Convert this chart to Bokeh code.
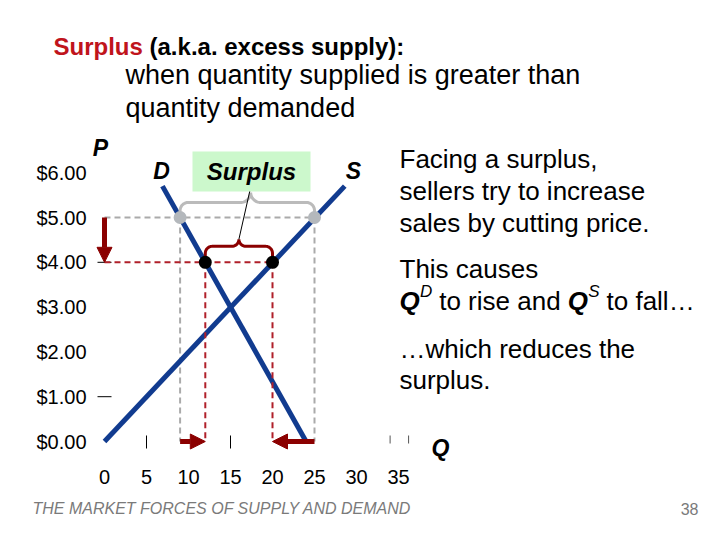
import numpy as np
from bokeh.plotting import figure
from bokeh.models import Range1d, Arrow, NormalHead
from bokeh.core.properties import value
from bokeh.embed import file_html
from bokeh.resources import INLINE

# ---------------- data ----------------
price_ticks = [0, 1, 2, 3, 4, 5, 6]
price_labels = ["$0.00", "$1.00", "$2.00", "$3.00", "$4.00", "$5.00", "$6.00"]
qty_ticks = [0, 5, 10, 15, 20, 25, 30, 35]
qty_labels = ["0", "5", "10", "15", "20", "25", "30", "35"]

demand_q = [6.9, 24.0]
demand_p = [5.7, 0.0]
supply_q = [0.0, 28.6]
supply_p = [0.0, 5.7]

surplus_price = 5.0
qd_at_surplus = 9.0
qs_at_surplus = 25.0
lower_price = 4.0
qd_at_lower = 12.0
qs_at_lower = 20.0

tick_marks_p = [1, 4]
tick_marks_q = [5, 15]
stray_marks_q = [34.0, 36.2]

# ---------------- scale helpers (picture pixels -> data) ----------------
PXQ = 8.4     # pixels per quantity unit
PXP = 44.8    # pixels per dollar
OX, OY = 104, 441


def qx(px):
    return (px - OX) / PXQ


def py(pyy):
    return (OY - pyy) / PXP


def dq(n):
    return n / PXQ


def dp(n):
    return n / PXP


FONT = value("Liberation Sans")
BLUE = "#113b8f"
DARKRED = "#8b0000"
DASHRED = "#b0202a"
GRAY = "#aaaaaa"

W, H = 704, 524
p = figure(width=W, height=H,
           x_range=Range1d(qx(0), qx(W)), y_range=Range1d(py(H), py(0)),
           output_backend="svg", toolbar_location=None,
           x_axis_location=None, y_axis_location=None,
           min_border=0, title=None)
p.xgrid.visible = False
p.ygrid.visible = False
p.outline_line_color = None
p.background_fill_color = "white"
p.border_fill_color = "white"


def brace(x0, x1, y0, h, r, c, end=4, xc=None):
    if xc is None:
        xc = (x0 + x1) / 2
    X1 = (x1 - x0) * PXQ
    XC = (xc - x0) * PXQ
    pts = [(0, end)]
    for a in np.linspace(np.pi, np.pi / 2, 12):
        pts.append((r + r * np.cos(a), h - r + r * np.sin(a)))
    for a in np.linspace(-np.pi / 2, 0, 12):
        pts.append((XC - c + c * np.cos(a), h + c + c * np.sin(a)))
    for a in np.linspace(np.pi, 1.5 * np.pi, 12):
        pts.append((XC + c + c * np.cos(a), h + c + c * np.sin(a)))
    for a in np.linspace(np.pi / 2, 0, 12):
        pts.append((X1 - r + r * np.cos(a), h - r + r * np.sin(a)))
    pts.append((X1, end))
    xs = [x0 + X / PXQ for X, _ in pts]
    ys = [y0 + Y / PXP for _, Y in pts]
    return xs, ys


# ---------------- guide lines ----------------
p.line([0, qs_at_surplus], [surplus_price, surplus_price], line_color=GRAY, line_width=2, line_dash="6 4")
p.segment(x0=[qd_at_surplus, qs_at_surplus], y0=[surplus_price] * 2,
          x1=[qd_at_surplus, qs_at_surplus], y1=[0, 0],
          line_color=GRAY, line_width=2, line_dash="6 4")

# tick marks
p.segment(x0=[-dq(7)] * 2, y0=tick_marks_p, x1=[dq(7)] * 2, y1=tick_marks_p, line_color="black", line_width=1)
p.segment(x0=tick_marks_q, y0=[-dp(7)] * 2, x1=tick_marks_q, y1=[dp(6)] * 2, line_color="black", line_width=1)
p.segment(x0=stray_marks_q, y0=[dp(-2)] * 2, x1=stray_marks_q, y1=[dp(6)] * 2, line_color="#555555", line_width=1)

# curves
p.line(demand_q, demand_p, line_color=BLUE, line_width=5)
p.line(supply_q, supply_p, line_color=BLUE, line_width=5)

p.line([0, qs_at_lower], [lower_price, lower_price], line_color=DASHRED, line_width=2, line_dash="6 4")
p.segment(x0=[qd_at_lower, qs_at_lower], y0=[lower_price] * 2,
          x1=[qd_at_lower, qs_at_lower], y1=[0, 0],
          line_color=DASHRED, line_width=2, line_dash="6 4")

# braces
gx, gy = brace(qd_at_surplus, qs_at_surplus, surplus_price, h=15, r=8, c=10, xc=17.4)
p.line(gx, gy, line_color="#bbbbbb", line_width=3)
rx, ry = brace(qd_at_lower, qs_at_lower, lower_price, h=16, r=7, c=7)
p.line(rx, ry, line_color=DARKRED, line_width=3)

# pointer from red brace to label
p.line([(qd_at_lower + qs_at_lower) / 2, qx(251)], [lower_price + dp(23), py(183)],
       line_color="black", line_width=1)

# surplus label box
p.rect(x=[qx(251)], y=[py(171)], width=118, height=40, width_units="screen", height_units="screen",
       fill_color="#ccf8cc", line_color=None)

# dots
p.scatter([qd_at_surplus, qs_at_surplus], [surplus_price] * 2, size=13, fill_color="#b4b8bc", line_color=None)
p.scatter([qd_at_lower, qs_at_lower], [lower_price] * 2, size=13, fill_color="black", line_color=None)

# arrows
for xs, ys, xe, ye in [(0, surplus_price, 0, lower_price),
                       (qd_at_surplus, 0, qd_at_lower, 0),
                       (qs_at_surplus, 0, qs_at_lower, 0)]:
    p.add_layout(Arrow(end=NormalHead(size=15, fill_color=DARKRED, line_color=DARKRED, line_width=1),
                       x_start=xs, y_start=ys, x_end=xe, y_end=ye,
                       line_color=DARKRED, line_width=5))

# ---------------- tick labels ----------------
p.text(x=[qx(86)] * len(price_ticks), y=price_ticks, text=price_labels,
       text_font=FONT, text_font_size="20px", text_align="right", text_baseline="middle", text_color="black")
p.text(x=qty_ticks, y=[py(476)] * len(qty_ticks), text=qty_labels,
       text_font=FONT, text_font_size="20px", text_align="center", text_baseline="middle", text_color="black")

# axis letters and curve labels
p.text(x=[qx(100), qx(161), qx(353), qx(440)], y=[py(147), py(170), py(170), py(447)],
       text=["P", "D", "S", "Q"], text_font=FONT, text_font_size="23px", text_font_style="bold italic",
       text_align="center", text_baseline="middle", text_color="black")
p.text(x=[qx(251)], y=[py(171)], text=["Surplus"], text_font=FONT, text_font_size="24px",
       text_font_style="bold italic", text_align="center", text_baseline="middle", text_color="black")

# ---------------- title texts ----------------
p.text(x=[qx(53)], y=[py(46)], text=["Surplus"], text_font=FONT, text_font_size="24px",
       text_font_style="bold", text_color="#c0141c", text_baseline="alphabetic")
p.text(x=[qx(53 + 24 * 4.001)], y=[py(46)], text=["(a.k.a. excess supply):"], text_font=FONT,
       text_font_size="24px", text_font_style="bold", text_color="black", text_baseline="alphabetic")
p.text(x=[qx(125)] * 2, y=[py(74), py(107)],
       text=["when quantity supplied is greater than", "quantity demanded"],
       text_font=FONT, text_font_size="27px", text_color="black", text_baseline="alphabetic")

# right-hand explanation
p.text(x=[qx(399)] * 6, y=[py(158), py(190), py(222), py(268), py(348), py(379)],
       text=["Facing a surplus,", "sellers try to increase", "sales by cutting price.",
             "This causes", "\u2026which reduces the", "surplus."],
       text_font=FONT, text_font_size="26px", text_color="black", text_baseline="alphabetic")
base5 = py(300)
p.text(x=[qx(399), qx(567.3)], y=[base5, base5], text=["Q", "Q"], text_font=FONT, text_font_size="26px",
       text_font_style="bold italic", text_color="black", text_baseline="alphabetic")
p.text(x=[qx(419.5), qx(587.8)], y=[base5 + dp(9)] * 2, text=["D", "S"], text_font=FONT,
       text_font_size="17px", text_font_style="italic", text_color="black", text_baseline="alphabetic")
p.text(x=[qx(438.7), qx(606)], y=[base5, base5], text=["to rise and", "to fall\u2026"], text_font=FONT,
       text_font_size="26px", text_color="black", text_baseline="alphabetic")

# footer
p.text(x=[qx(32)], y=[py(508)], text=["THE MARKET FORCES OF SUPPLY AND DEMAND"], text_font=FONT,
       text_font_size="16px", text_font_style="italic", text_color="#7a7a7a", text_baseline="middle")
p.text(x=[qx(698)], y=[py(508)], text=["38"], text_font=FONT, text_font_size="16px",
       text_color="#7a7a7a", text_align="right", text_baseline="middle")

open("out.html", "w").write(file_html(p, INLINE))
